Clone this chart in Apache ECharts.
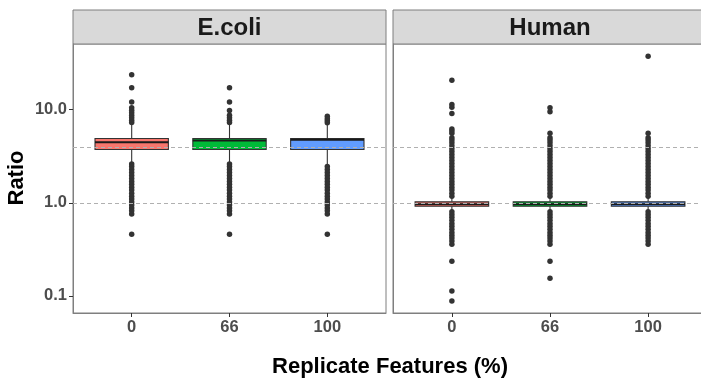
<!DOCTYPE html>
<html>
<head>
<meta charset="utf-8">
<script src="https://cdn.jsdelivr.net/npm/echarts@6/dist/echarts.min.js"></script>
<style>
  html, body { margin: 0; padding: 0; background: #fff; }
  #chart { width: 701px; height: 381px; }
</style>
</head>
<body>
<div id="chart"></div>
<script>
var categories = ['0', '66', '100'];
var panels = ['E.coli', 'Human'];
var boxColors = ['#F8766D', '#00BA38', '#619CFF'];
var yTicks = [0.1, 1, 10];
var refLines = [1, 4];

// [lower whisker, Q1, median, Q3, upper whisker] per category
var ecoliBoxes = [
  [2.7, 3.74, 4.48, 4.91, 7.2],
  [2.7, 3.74, 4.68, 4.91, 7.2],
  [2.5, 3.74, 4.77, 4.91, 7.2]
];
var humanBoxes = [
  [0.84, 0.92, 0.965, 1.025, 1.13],
  [0.84, 0.92, 0.965, 1.025, 1.13],
  [0.84, 0.92, 0.965, 1.025, 1.13]
];

// outlier values per category (dense runs listed dot by dot)
var ecoliOutliers = [
  [23.8, 17.2, 12.1, 10.5, 9.9, 9.3, 8.7, 8.2, 7.7, 7.3,
   2.62, 2.45, 2.28, 2.12, 1.97, 1.83, 1.7, 1.58, 1.47, 1.37, 1.27, 1.18, 1.1, 1.02, 0.95, 0.88, 0.82, 0.76, 0.46],
  [17.2, 12.1, 9.8, 8.7, 8.2, 7.7, 7.3,
   2.62, 2.45, 2.28, 2.12, 1.97, 1.83, 1.7, 1.58, 1.47, 1.37, 1.27, 1.18, 1.1, 1.02, 0.95, 0.88, 0.82, 0.76, 0.46],
  [8.5, 8.0, 7.6, 7.25,
   2.45, 2.28, 2.12, 1.97, 1.83, 1.7, 1.58, 1.47, 1.37, 1.27, 1.18, 1.1, 1.02, 0.95, 0.88, 0.82, 0.76, 0.46]
];
var humanOutliers = [
  [20.7, 11.4, 10.6, 9.1, 6.2, 5.9, 5.6,
   5.0, 4.72, 4.42, 4.1, 3.82, 3.55, 3.3, 3.07, 2.85, 2.64, 2.45, 2.28, 2.12, 1.97, 1.83, 1.7, 1.58, 1.47, 1.37, 1.27, 1.18,
   0.8, 0.75, 0.7, 0.65, 0.6, 0.56, 0.52, 0.48, 0.45, 0.42, 0.39, 0.36, 0.236, 0.113, 0.088],
  [10.5, 9.5, 5.6,
   5.0, 4.72, 4.42, 4.1, 3.82, 3.55, 3.3, 3.07, 2.85, 2.64, 2.45, 2.28, 2.12, 1.97, 1.83, 1.7, 1.58, 1.47, 1.37, 1.27, 1.18,
   0.8, 0.75, 0.7, 0.65, 0.6, 0.56, 0.52, 0.48, 0.45, 0.42, 0.39, 0.36, 0.236, 0.155],
  [37.6, 5.6,
   5.0, 4.72, 4.42, 4.1, 3.82, 3.55, 3.3, 3.07, 2.85, 2.64, 2.45, 2.28, 2.12, 1.97, 1.83, 1.7, 1.58, 1.47, 1.37, 1.27, 1.18,
   0.8, 0.75, 0.7, 0.65, 0.6, 0.56, 0.52, 0.48, 0.45, 0.42, 0.39, 0.36]
];

var FONT = '"Liberation Sans", Arial, sans-serif';
var grids = [
  { left: 73, top: 44, width: 313, height: 269 },
  { left: 393, top: 44, width: 314, height: 269 }
];

function renderBox(params, api) {
  var x = api.value(0);
  var lo = api.coord([x, api.value(1)]);
  var q1 = api.coord([x, api.value(2)]);
  var md = api.coord([x, api.value(3)]);
  var q3 = api.coord([x, api.value(4)]);
  var hi = api.coord([x, api.value(5)]);
  var half = (api.coord([x + 0.375, 1])[0] - api.coord([x - 0.375, 1])[0]) / 2;
  var c = lo[0];
  var ln = { stroke: '#333', lineWidth: 1.1 };
  return {
    type: 'group',
    children: [
      { type: 'line', shape: { x1: c, y1: hi[1], x2: c, y2: q3[1] }, style: ln },
      { type: 'line', shape: { x1: c, y1: q1[1], x2: c, y2: lo[1] }, style: ln },
      { type: 'rect', shape: { x: c - half, y: q3[1], width: half * 2, height: q1[1] - q3[1] },
        style: { fill: boxColors[params.dataIndex], stroke: '#333', lineWidth: 1.1 } },
      { type: 'line', shape: { x1: c - half, y1: md[1], x2: c + half, y2: md[1] },
        style: { stroke: '#1a1a1a', lineWidth: 2 } }
    ]
  };
}

function boxData(boxes) {
  return boxes.map(function (b, i) { return [i].concat(b); });
}
function pointData(outs) {
  var res = [];
  outs.forEach(function (list, i) {
    list.forEach(function (v) { res.push([i, v]); });
  });
  return res;
}

var xAxes = [], yAxes = [], series = [], graphics = [];
[ecoliBoxes, humanBoxes].forEach(function (boxes, p) {
  var outs = p === 0 ? ecoliOutliers : humanOutliers;
  xAxes.push({
    type: 'value', gridIndex: p, min: -0.6, max: 2.6,
    splitLine: { show: false },
    axisLine: { show: true, onZero: false, lineStyle: { color: '#7f7f7f', width: 1 } },
    axisTick: { show: true, customValues: [0, 1, 2], length: 4, lineStyle: { color: '#333', width: 1 } },
    axisLabel: {
      customValues: [0, 1, 2], margin: 6,
      formatter: function (v) { return categories[Math.round(v)]; },
      color: '#4d4d4d', fontWeight: 'bold', fontSize: 16.5, fontFamily: FONT
    }
  });
  yAxes.push({
    type: 'log', gridIndex: p, min: 0.0656, max: 50.8,
    splitLine: { show: false },
    axisLine: { show: true, onZero: false, lineStyle: { color: '#7f7f7f', width: 1 } },
    axisTick: { show: p === 0, customValues: yTicks, length: 4, lineStyle: { color: '#333', width: 1 } },
    axisLabel: {
      show: p === 0, customValues: yTicks, margin: 6,
      formatter: function (v) { return Number(v).toFixed(1); },
      color: '#4d4d4d', fontWeight: 'bold', fontSize: 16.5, fontFamily: FONT
    }
  });
  series.push({
    type: 'custom', xAxisIndex: p, yAxisIndex: p, z: 2,
    renderItem: renderBox,
    encode: { x: 0, y: [1, 2, 3, 4, 5] },
    data: boxData(boxes)
  });
  series.push({
    type: 'scatter', xAxisIndex: p, yAxisIndex: p, z: 3,
    symbol: 'circle', symbolSize: 5.5,
    itemStyle: { color: '#333', opacity: 1 },
    data: pointData(outs),
    markLine: {
      silent: true, symbol: 'none', label: { show: false },
      lineStyle: { color: '#b0b0b0', type: [4, 3], width: 1 },
      data: refLines.map(function (v) { return { yAxis: v }; })
    }
  });
  var g = grids[p];
  graphics.push({
    type: 'rect', shape: { x: g.left, y: 10, width: g.width, height: 34 },
    style: { fill: '#d9d9d9', stroke: '#7f7f7f', lineWidth: 1 }
  });
  graphics.push({
    type: 'text', x: g.left + g.width / 2, y: 28,
    style: { text: panels[p], font: 'bold 24px ' + FONT, fill: '#1a1a1a', align: 'center', verticalAlign: 'middle' }
  });
});

graphics.push({
  type: 'text', x: 390, y: 367,
  style: { text: 'Replicate Features (%)', font: 'bold 22px ' + FONT, fill: '#000', align: 'center', verticalAlign: 'middle' }
});
graphics.push({
  type: 'text', x: 17, y: 178, rotation: Math.PI / 2,
  style: { text: 'Ratio', font: 'bold 22px ' + FONT, fill: '#000', align: 'center', verticalAlign: 'middle' }
});

var chart = echarts.init(document.getElementById('chart'), null, { renderer: 'canvas' });
chart.setOption({
  animation: false,
  backgroundColor: '#fff',
  grid: grids.map(function (g) {
    return { left: g.left, top: g.top, width: g.width, height: g.height, show: true,
      backgroundColor: '#fff', borderColor: '#7f7f7f', borderWidth: 1, outerBoundsMode: 'none' };
  }),
  xAxis: xAxes,
  yAxis: yAxes,
  series: series,
  graphic: graphics
});
</script>
</body>
</html>
